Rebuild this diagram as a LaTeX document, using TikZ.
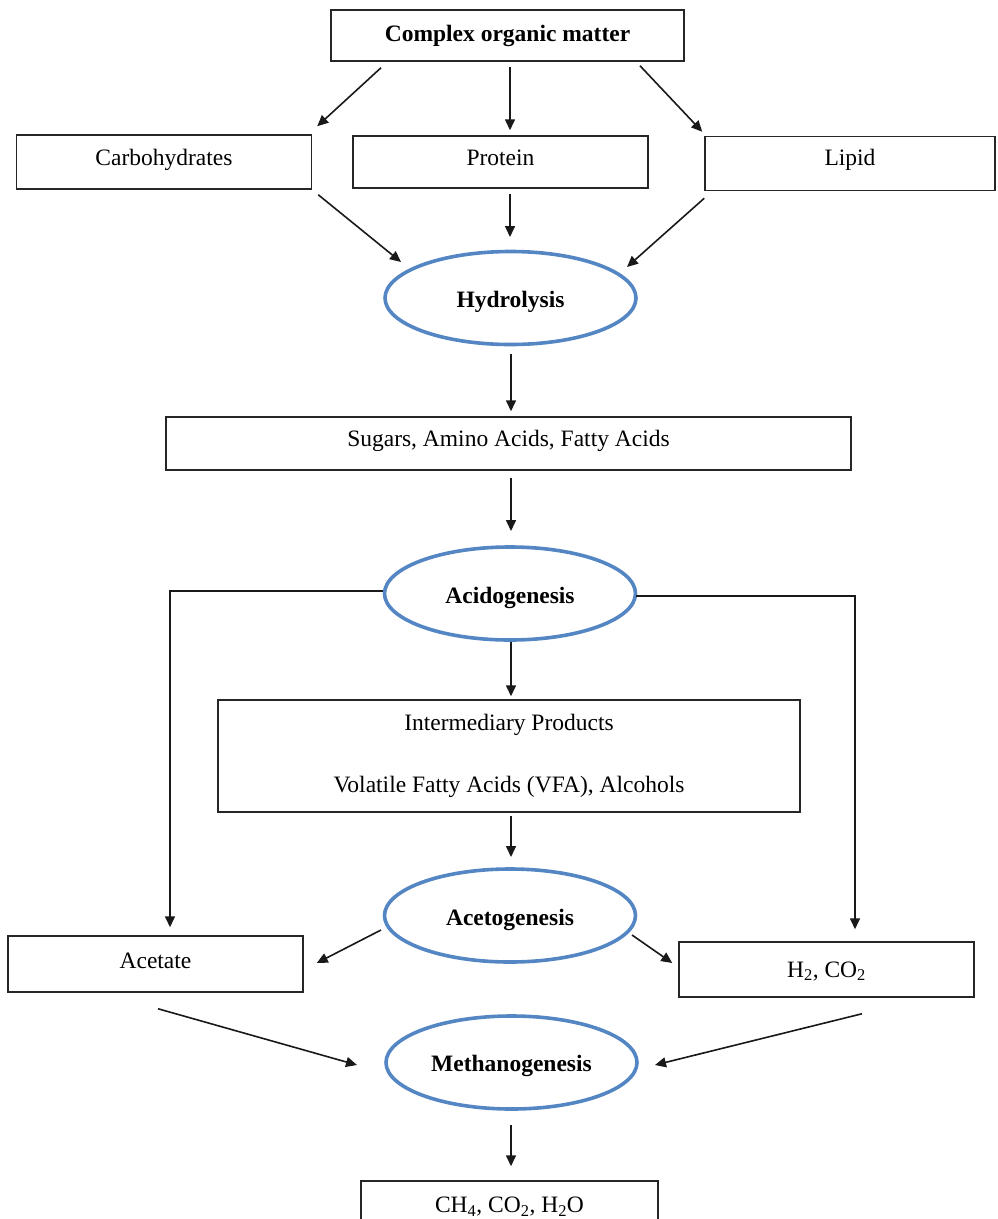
\documentclass[tikz,border=0pt]{standalone}
\usepackage{fontspec}
\setmainfont{Liberation Serif}
\usetikzlibrary{shapes.geometric,arrows.meta}
\definecolor{stageblue}{RGB}{84,134,196}
\begin{document}
\begin{tikzpicture}[x=1pt,y=-1pt,
  every node/.style={font=\fontsize{23.5}{28}\selectfont},
  box/.style={draw=black!85, line width=1.5pt, rectangle, inner sep=0pt,
    text height=7pt, text depth=0pt},
  stage/.style={draw=stageblue, line width=3.6pt, ellipse, inner sep=0pt,
    minimum width=251pt, minimum height=93pt, text height=19pt, text depth=0pt,
    font=\fontsize{23.5}{28}\selectfont\bfseries},
  flow/.style={draw=black!90, line width=1.6pt,
    -{Triangle[length=11pt,width=10pt]}},
]
\useasboundingbox (0,0) rectangle (998,1219);
\clip (0,0) rectangle (998,1219);

% boxes
\node[box, minimum width=353pt, minimum height=51pt, text height=11pt,
  font=\fontsize{23.5}{28}\selectfont\bfseries]
  (top) at (507.5,35.5) {Complex organic matter};
\node[box, minimum width=295pt, minimum height=54pt] (carb) at (164,162) {Carbohydrates};
\node[box, minimum width=295pt, minimum height=52pt] (prot) at (500.5,162) {Protein};
\node[box, minimum width=290pt, minimum height=54pt, text height=4pt]
  (lipid) at (850,163.5) {Lipid};
\node[box, minimum width=685pt, minimum height=53pt, text height=5pt]
  (sugars) at (508.5,443.5) {Sugars, Amino Acids, Fatty Acids};
\node[draw=black!85, line width=1.5pt, rectangle, inner sep=0pt, align=center,
  minimum width=582pt, minimum height=112pt] (inter) at (509,756)
  {Intermediary Products\\[34pt]Volatile Fatty Acids (VFA), Alcohols};
\node[box, minimum width=295pt, minimum height=56pt, text height=9pt]
  (acetate) at (155.5,964) {Acetate};
\node[box, minimum width=295pt, minimum height=55pt, text height=15pt]
  (h2) at (826.5,969.5) {H\textsubscript{2}, CO\textsubscript{2}};
\node[box, minimum width=297pt, minimum height=60pt, text height=3pt]
  (final) at (509.5,1211) {CH\textsubscript{4}, CO\textsubscript{2}, H\textsubscript{2}O};

% process stages
\node[stage] (hydro) at (510.5,298) {Hydrolysis};
\node[stage] (acid) at (510,593.5) {Acidogenesis};
\node[stage] (aceto) at (510,915.5) {Acetogenesis};
\node[stage, text height=17pt] (methano) at (511.5,1062.5) {Methanogenesis};

% connectors
\draw[flow] ([shift={(-126.5,6)}]top.south) -- ([shift={(5,-8)}]carb.north east);
\draw[flow] ([shift={(2.5,5)}]top.south) -- ([shift={(9.5,-5)}]prot.north);
\draw[flow] ([shift={(132.5,4)}]top.south) -- ([shift={(-2,-4)}]lipid.north west);

\draw[flow] ([shift={(6,5)}]carb.south east) -- ([shift={(-109.5,-36)}]hydro.center);
\draw[flow] ([shift={(9.5,5)}]prot.south) -- ([shift={(-0.5,-61)}]hydro.center);
\draw[flow] ([shift={(0,7)}]lipid.south west) -- ([shift={(116.5,-31)}]hydro.center);

\draw[flow] ([shift={(0.5,56)}]hydro.center) -- ([shift={(2.5,-5)}]sugars.north);
\draw[flow] ([shift={(2.5,7)}]sugars.south) -- ([shift={(1,-62.5)}]acid.center);

\draw[flow] ([shift={(-127,-2.5)}]acid.center) -| ([shift={(14.5,-8)}]acetate.north);
\draw[flow] ([shift={(126,2.5)}]acid.center) -| ([shift={(28.5,-12)}]h2.north);
\draw[flow] ([shift={(1,48.5)}]acid.center) -- ([shift={(2,-3)}]inter.north);

\draw[flow] ([shift={(2,3)}]inter.south) -- ([shift={(1,-58.5)}]aceto.center);
\draw[flow] ([shift={(-129,14.5)}]aceto.center) -- ([shift={(13,-1)}]acetate.east);
\draw[flow] ([shift={(122,19.5)}]aceto.center) -- ([shift={(-6,-6.5)}]h2.west);

\draw[flow] ([shift={(2.5,16)}]acetate.south) -- ([shift={(-154.5,2.5)}]methano.center);
\draw[flow] ([shift={(35.5,16)}]h2.south) -- ([shift={(143.5,2.5)}]methano.center);
\draw[flow] ([shift={(-0.5,62.5)}]methano.center) -- ([shift={(1.5,-14)}]final.north);
\end{tikzpicture}
\end{document}
